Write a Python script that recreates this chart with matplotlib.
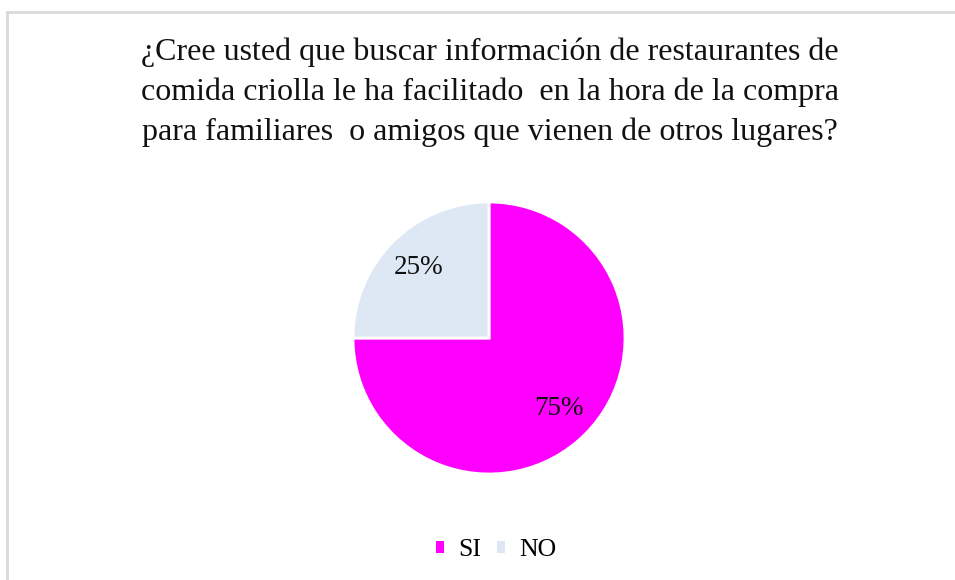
import matplotlib.pyplot as plt
from matplotlib.patches import Rectangle, Patch

# Data
labels = ['SI', 'NO']
values = [75, 25]
colors = ['#FF00FF', '#DEE8F4']
title = ('¿Cree usted que buscar información de restaurantes de\n'
         'comida criolla le ha facilitado  en la hora de la compra\n'
         'para familiares  o amigos que vienen de otros lugares?')

plt.rcParams['font.family'] = ['Liberation Serif', 'DejaVu Serif']

fig = plt.figure(figsize=(9.55, 5.8), dpi=100)

# light grey frame (cropped on right/bottom like the original)
fig.patches.append(Rectangle((7 / 955, -0.05), 1.1, 1 - 12 / 580 + 0.05,
                             transform=fig.transFigure, fill=False,
                             edgecolor='#D9D9D9', linewidth=2))

# pie axes: centre (489, 338), radius 136 px
r = 136
cx, cy = 489, 338
ax = fig.add_axes([(cx - r) / 955, 1 - (cy + r) / 580, 2 * r / 955, 2 * r / 580])
ax.pie(values, colors=colors, startangle=90, counterclock=False,
       autopct='%d%%', pctdistance=0.73, radius=1,
       wedgeprops=dict(edgecolor='white', linewidth=2),
       textprops=dict(fontsize=19.5, color='#111111'))
ax.set_xlim(-1.0, 1.0)
ax.set_ylim(-1.0, 1.0)
ax.set_aspect('auto')

fig.text(490 / 955, 1 - 92 / 580, title, ha='center', va='center',
         fontsize=23, linespacing=1.47, color='#111111')

handles = [Patch(facecolor=c, edgecolor='none') for c in colors]
fig.legend(handles, labels, loc='center', bbox_to_anchor=(496 / 955, 1 - 550 / 580),
           ncol=2, frameon=False, fontsize=18.5, handlelength=0.32,
           handleheight=0.32, handletextpad=0.55, columnspacing=0.6)

fig.savefig('out.png', dpi=100, facecolor='white')
